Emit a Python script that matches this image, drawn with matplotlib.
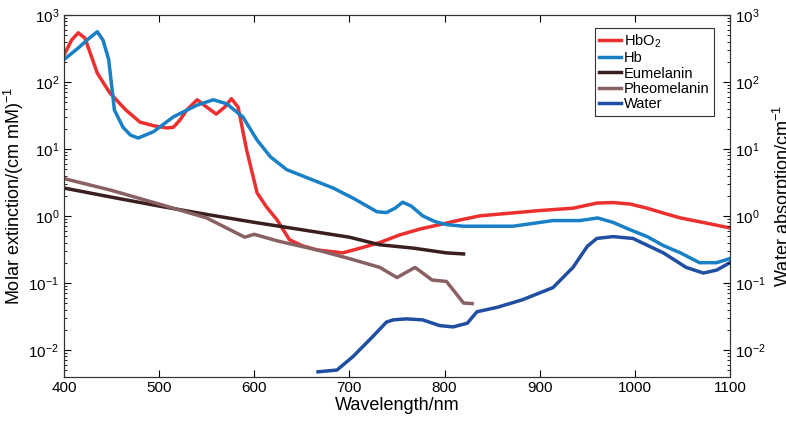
import numpy as np
import matplotlib.pyplot as plt

plt.rcParams['font.family'] = ['Liberation Sans', 'DejaVu Sans']
plt.rcParams['mathtext.fontset'] = 'custom'
plt.rcParams['mathtext.rm'] = 'Liberation Sans'

# data (wavelength nm, value)
hbo2_wl = [400, 408, 415, 422, 430, 435, 448, 465, 480, 495, 508, 515, 522, 529, 540, 550, 560, 569, 576, 583,
           592, 603, 613, 624, 637, 650, 666, 693, 718, 732, 753, 775, 795, 815, 837, 870, 900, 935, 960, 977,
           995, 1013, 1030, 1048, 1075, 1100]
hbo2 = [250, 420, 540, 450, 215, 135, 69, 38, 25, 22, 20.5, 21, 27, 38, 54, 42, 33, 42, 56, 42,
        9.6, 2.2, 1.35, 0.87, 0.44, 0.36, 0.31, 0.28, 0.35, 0.40, 0.52, 0.64, 0.74, 0.86, 1.0, 1.1, 1.2, 1.3, 1.55, 1.58,
        1.5, 1.3, 1.1, 0.93, 0.78, 0.66]

hb_wl = [400, 415, 425, 435, 441, 447, 453, 462, 470, 478, 494, 515, 540, 557, 571, 588, 603, 617, 634, 660,
         683, 705, 729, 739, 748, 756, 765, 777, 790, 802, 820, 872, 914, 942, 961, 977, 995, 1013, 1030, 1048,
         1068, 1086, 1100]
hb = [215, 320, 430, 560, 420, 215, 38, 21, 16, 14.5, 18, 30, 45, 54, 47, 30, 13.5, 7.6, 4.9, 3.5,
      2.6, 1.8, 1.15, 1.12, 1.3, 1.6, 1.4, 1.0, 0.82, 0.74, 0.7, 0.7, 0.85, 0.85, 0.93, 0.8, 0.62, 0.49, 0.36, 0.28,
      0.2, 0.2, 0.23]

eu_wl = [400, 450, 500, 550, 600, 650, 700, 732, 767, 802, 820]
eumelanin = [2.6, 1.9, 1.4, 1.05, 0.8, 0.62, 0.48, 0.37, 0.33, 0.28, 0.27]

pheo_wl = [400, 450, 500, 550, 590, 600, 625, 666, 700, 732, 750, 769, 787, 802, 820, 829]
pheomelanin = [3.6, 2.4, 1.5, 0.93, 0.48, 0.53, 0.42, 0.31, 0.23, 0.17, 0.12, 0.17, 0.11, 0.105, 0.05, 0.049]

water_wl = [667, 687, 704, 724, 739, 746, 760, 777, 795, 809, 824, 834, 855, 882, 914, 935, 950, 960, 977, 998,
            1030, 1054, 1072, 1086, 1100]
water = [0.0047, 0.005, 0.008, 0.0155, 0.026, 0.028, 0.029, 0.028, 0.023, 0.022, 0.025, 0.037, 0.043, 0.056, 0.085, 0.17, 0.35, 0.46, 0.49, 0.46,
         0.28, 0.17, 0.14, 0.155, 0.2]

fig = plt.figure(figsize=(7.86, 4.24), dpi=100)
ax = fig.add_axes([0.0814, 0.112, 0.8473, 0.853])
lw = 2.5
ax.plot(hbo2_wl, hbo2, color='#ec2f2f', lw=lw, label='HbO$_2$')
ax.plot(hb_wl, hb, color='#1a80c6', lw=lw, label='Hb')
ax.plot(eu_wl, eumelanin, color='#3b1e20', lw=lw, label='Eumelanin')
ax.plot(pheo_wl, pheomelanin, color='#8a6163', lw=lw, label='Pheomelanin')
ax.plot(water_wl, water, color='#1f4ea3', lw=lw, label='Water')

ax.set_yscale('log')
ax.set_xlim(400, 1100)
ax.set_ylim(0.004, 1000)
ax.set_xticks([400, 500, 600, 700, 800, 900, 1000, 1100])
ax.tick_params(which='both', direction='in', top=True, labelsize=11)
ax.tick_params(which='major', length=5)
ax.tick_params(which='minor', length=2.5)
ax.set_xlabel('Wavelength/nm', fontsize=13, labelpad=1)
ax.set_ylabel('Molar extinction/(cm mM)$^{-1}$', fontsize=13, labelpad=2)

ax2 = ax.twinx()
ax2.set_yscale('log')
ax2.set_ylim(0.004, 1000)
ax2.tick_params(which='both', direction='in', labelsize=11)
ax2.tick_params(which='major', length=5)
ax2.tick_params(which='minor', length=2.5)
ax2.set_ylabel('Water absorption/cm$^{-1}$', fontsize=13, labelpad=4)

for a in (ax, ax2):
    for s in a.spines.values():
        s.set_color('#333333')

leg = ax.legend(loc='upper right', bbox_to_anchor=(0.987, 0.985), fontsize=10.5, handlelength=1.5,
                handletextpad=0.2, borderpad=0.3, labelspacing=0.1, fancybox=False, framealpha=1)
leg.get_frame().set_edgecolor('#333333')
leg.get_frame().set_linewidth(0.8)

fig.savefig('out.png', dpi=100)
